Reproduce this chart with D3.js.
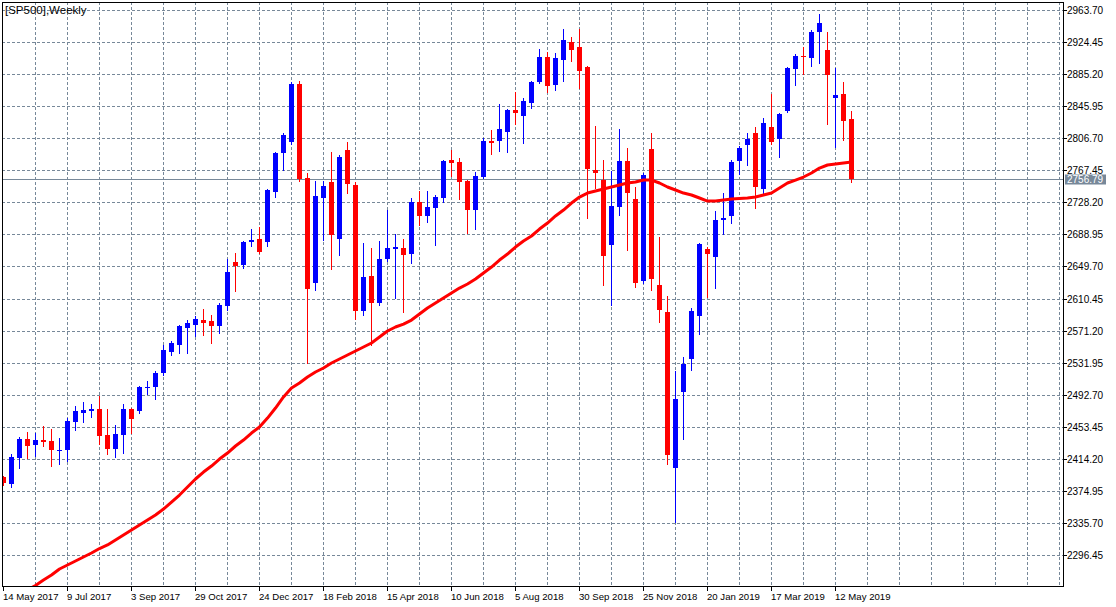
<!DOCTYPE html>
<html>
<head>
<meta charset="utf-8">
<script src="https://cdn.jsdelivr.net/npm/d3@7/dist/d3.min.js"></script>
<style>
  html, body { margin: 0; padding: 0; background: #ffffff; }
  svg { display: block; }
  text { font-family: "Liberation Sans", Arial, sans-serif; }
</style>
</head>
<body>
<svg id="chart" width="1116" height="607"></svg>
<script>
// ---------------- DATA ----------------
const title = "[SP500],Weekly";

// Weekly candles, first bar = week of 14 May 2017 (one bar per week)
const open = [
  2391.9, 2383.7, 2415.6, 2438.5, 2431.5, 2437.2, 2436.0, 2424.6, 2425.4, 2459.6,
  2470.6, 2473.1, 2475.2, 2443.4, 2426.6, 2443.7, 2475.2, 2473.1, 2501.5, 2501.8,
  2519.3, 2545.3, 2553.6, 2574.7, 2578.4, 2584.1, 2582.9, 2577.2, 2601.7, 2655.2,
  2651.9, 2679.6, 2683.3, 2679.6, 2740.8, 2788.6, 2802.0, 2873.1, 2758.0, 2629.4,
  2733.5, 2753.1, 2683.3, 2792.3, 2749.4, 2595.1, 2638.0, 2604.9, 2658.8, 2671.1,
  2672.3, 2664.9, 2728.6, 2711.5, 2721.3, 2733.9, 2780.0, 2777.6, 2754.3, 2719.2,
  2759.6, 2803.3, 2803.6, 2814.3, 2841.2, 2833.9, 2849.8, 2875.5, 2906.1, 2871.8,
  2902.5, 2924.5, 2918.4, 2893.9, 2767.8, 2755.5, 2676.3, 2722.8, 2778.8, 2732.3,
  2631.5, 2793.5, 2627.0, 2593.9, 2403.3, 2496.3, 2536.7, 2589.4, 2671.0, 2661.6,
  2706.6, 2711.5, 2779.2, 2798.7, 2813.1, 2744.9, 2820.4, 2806.1, 2840.4, 2891.8,
  2907.3, 2905.3, 2937.1, 2914.7, 2856.3, 2860.8, 2830.6
];
const high = [
  2393.2, 2420.1, 2440.9, 2447.0, 2445.8, 2454.4, 2450.7, 2439.7, 2463.8, 2478.9,
  2483.7, 2481.3, 2491.1, 2475.2, 2455.6, 2481.3, 2476.0, 2503.0, 2509.5, 2521.7,
  2553.6, 2558.4, 2577.5, 2584.1, 2589.0, 2597.6, 2590.3, 2605.0, 2658.8, 2666.2,
  2680.8, 2695.5, 2698.0, 2744.0, 2789.5, 2813.1, 2875.5, 2876.7, 2764.1, 2754.3,
  2754.3, 2789.8, 2786.1, 2802.0, 2753.1, 2678.4, 2672.3, 2680.8, 2718.8, 2689.4,
  2683.3, 2733.5, 2742.1, 2742.1, 2737.2, 2780.0, 2792.3, 2782.8, 2755.5, 2765.3,
  2806.6, 2816.7, 2848.6, 2842.0, 2863.3, 2855.9, 2876.7, 2915.9, 2912.2, 2911.0,
  2940.4, 2930.6, 2940.4, 2895.5, 2821.6, 2780.0, 2766.5, 2818.0, 2794.7, 2747.0,
  2764.1, 2813.1, 2685.7, 2613.5, 2522.1, 2538.8, 2598.8, 2678.0, 2673.9, 2717.6,
  2740.0, 2779.5, 2797.5, 2813.1, 2820.8, 2831.4, 2860.8, 2837.0, 2893.9, 2909.8,
  2918.7, 2939.2, 2958.8, 2936.8, 2892.7, 2875.5, 2840.0
];
const low = [
  2382.2, 2380.1, 2403.3, 2415.6, 2418.0, 2430.3, 2405.8, 2408.2, 2411.9, 2449.8,
  2459.2, 2465.7, 2432.7, 2420.4, 2416.8, 2421.7, 2446.2, 2470.6, 2493.6, 2487.8,
  2516.8, 2541.3, 2544.1, 2544.1, 2564.9, 2566.1, 2556.3, 2568.6, 2596.4, 2620.0,
  2648.2, 2675.1, 2666.0, 2674.7, 2734.7, 2767.8, 2799.6, 2754.3, 2531.5, 2620.9,
  2682.1, 2646.6, 2663.7, 2739.6, 2585.3, 2590.3, 2553.5, 2603.0, 2657.0, 2611.1,
  2593.9, 2653.9, 2700.4, 2704.1, 2675.9, 2729.0, 2760.8, 2732.6, 2691.0, 2695.9,
  2758.0, 2787.4, 2791.0, 2789.8, 2824.1, 2800.8, 2843.7, 2874.3, 2863.3, 2865.7,
  2876.7, 2901.2, 2868.2, 2709.0, 2745.8, 2627.3, 2602.9, 2713.1, 2670.2, 2624.9,
  2630.0, 2621.2, 2582.0, 2408.2, 2336.8, 2438.8, 2523.3, 2567.4, 2612.7, 2623.7,
  2690.0, 2703.0, 2763.3, 2774.3, 2721.6, 2737.5, 2800.0, 2784.1, 2839.0, 2872.2,
  2885.3, 2895.5, 2899.2, 2824.5, 2796.3, 2804.9, 2753.4
];
const close = [
  2384.6, 2416.8, 2438.5, 2430.3, 2437.2, 2434.8, 2425.4, 2425.0, 2460.5, 2472.7,
  2474.0, 2475.5, 2442.5, 2426.6, 2444.6, 2475.2, 2463.3, 2502.1, 2502.1, 2519.3,
  2547.4, 2555.6, 2576.8, 2580.5, 2585.3, 2580.8, 2577.2, 2602.5, 2642.9, 2650.6,
  2679.6, 2682.1, 2667.4, 2743.3, 2788.6, 2810.6, 2873.1, 2756.8, 2622.1, 2735.9,
  2748.2, 2688.2, 2783.7, 2750.6, 2595.1, 2636.8, 2604.9, 2658.8, 2672.3, 2673.5,
  2663.7, 2728.6, 2711.5, 2722.5, 2734.7, 2778.8, 2776.7, 2753.4, 2719.2, 2760.8,
  2803.6, 2800.8, 2818.0, 2841.2, 2837.6, 2852.2, 2875.5, 2906.1, 2870.6, 2904.9,
  2927.0, 2914.7, 2889.0, 2769.0, 2764.5, 2662.8, 2723.7, 2778.8, 2740.0, 2629.8,
  2762.0, 2634.7, 2596.7, 2419.2, 2487.4, 2530.3, 2595.1, 2677.2, 2665.3, 2706.6,
  2709.0, 2777.6, 2794.7, 2806.1, 2747.4, 2825.3, 2802.4, 2836.3, 2892.6, 2907.3,
  2906.1, 2936.8, 2947.8, 2884.5, 2859.6, 2828.1, 2756.79
];
// Moving average (red line), one value per bar
const movingAverage = [
  2236.4, 2243.8, 2248.7, 2253.6, 2259.1, 2265.8, 2271.9, 2279.3, 2284.2, 2289.1,
  2294.0, 2298.9, 2304.4, 2308.7, 2314.8, 2320.9, 2327.0, 2333.1, 2339.3, 2345.4,
  2352.7, 2361.3, 2369.9, 2379.7, 2389.5, 2398.0, 2405.4, 2413.9, 2421.3, 2429.9,
  2437.2, 2445.8, 2453.1, 2464.1, 2476.4, 2489.9, 2500.9, 2507.0, 2514.3, 2520.5,
  2525.4, 2531.5, 2536.4, 2541.3, 2546.2, 2551.1, 2556.0, 2563.3, 2570.7, 2575.6,
  2579.2, 2584.1, 2591.5, 2598.8, 2604.9, 2611.1, 2617.2, 2623.3, 2628.2, 2634.3,
  2641.7, 2649.0, 2657.6, 2664.9, 2673.5, 2680.8, 2687.0, 2695.5, 2702.9, 2711.5,
  2718.8, 2727.4, 2734.7, 2739.6, 2742.1, 2744.5, 2747.0, 2749.4, 2751.9, 2753.1,
  2755.5, 2755.5, 2751.9, 2747.0, 2743.3, 2739.6, 2737.2, 2733.5, 2729.8, 2729.8,
  2731.0, 2732.3, 2732.9, 2733.5, 2734.7, 2737.2, 2739.6, 2745.7, 2751.9, 2755.5,
  2759.2, 2764.1, 2770.2, 2773.9, 2775.1, 2776.3, 2777.6
];
const lastPrice = 2756.79;

// Price axis tick labels
const priceTicks = [
  "2296.45", "2335.70", "2374.95", "2414.20", "2453.45", "2492.70", "2531.95", "2571.20",
  "2610.45", "2649.70", "2688.95", "2728.20", "2767.45", "2806.70", "2845.95", "2885.20",
  "2924.45", "2963.70"
];
// Time axis labels: one label every 8 bars, starting at bar 0
const timeLabels = [
  "14 May 2017", "9 Jul 2017", "3 Sep 2017", "29 Oct 2017", "24 Dec 2017", "18 Feb 2018",
  "15 Apr 2018", "10 Jun 2018", "5 Aug 2018", "30 Sep 2018", "25 Nov 2018", "20 Jan 2019",
  "17 Mar 2019", "12 May 2019"
];
const labelEvery = 8;
const gridEvery = 4;

// ---------------- LAYOUT ----------------
const plot = { left: 2, top: 2, right: 1063, bottom: 586 };
const svg = d3.select("#chart");
const BLUE = "#0000ff", RED = "#ff0000", GRID = "#778899";

const nBars = close.length;
// bar index -> pixel center (8px per bar)
const x = d3.scaleLinear().domain([0, 1]).range([3.5, 11.5]);
const y = d3.scaleLinear().domain([+priceTicks[0], +priceTicks[priceTicks.length - 1]]).range([555, 10]);

svg.append("rect").attr("x", 0).attr("y", 0).attr("width", 1116).attr("height", 607).attr("fill", "#fff");

svg.append("defs").append("clipPath").attr("id", "clip")
  .append("rect").attr("x", plot.left + 1).attr("y", plot.top + 1)
  .attr("width", plot.right - plot.left - 1).attr("height", plot.bottom - plot.top - 1);

// Grid
const grid = svg.append("g").attr("clip-path", "url(#clip)");
priceTicks.forEach(t => {
  const yy = Math.round(y(+t)) + 0.5;
  grid.append("line").attr("x1", plot.left).attr("x2", plot.right).attr("y1", yy).attr("y2", yy)
    .attr("stroke", GRID).attr("stroke-width", 1).attr("stroke-dasharray", "3,2");
});
for (let i = gridEvery; x(i) < plot.right; i += gridEvery) {
  const xx = Math.floor(x(i)) + 0.5;
  grid.append("line").attr("x1", xx).attr("x2", xx).attr("y1", plot.top).attr("y2", plot.bottom)
    .attr("stroke", GRID).attr("stroke-width", 1).attr("stroke-dasharray", "3,2");
}

// Last price line
const lpY = Math.round(y(lastPrice)) + 0.5;
grid.append("line").attr("x1", plot.left).attr("x2", plot.right).attr("y1", lpY).attr("y2", lpY)
  .attr("stroke", GRID).attr("stroke-width", 1);

// Candles
const bars = d3.range(nBars).map(i => ({ i, o: open[i], h: high[i], l: low[i], c: close[i] }));
const cg = svg.append("g").attr("clip-path", "url(#clip)");
const candle = cg.selectAll("g.c").data(bars).join("g").attr("class", "c");
candle.append("line")
  .attr("x1", d => Math.floor(x(d.i)) + 0.5).attr("x2", d => Math.floor(x(d.i)) + 0.5)
  .attr("y1", d => Math.round(y(d.h))).attr("y2", d => Math.round(y(d.l)) + 1)
  .attr("stroke", d => d.c >= d.o ? BLUE : RED).attr("stroke-width", 1);
candle.append("rect")
  .attr("x", d => Math.floor(x(d.i)) - 2).attr("width", 5)
  .attr("y", d => Math.round(y(Math.max(d.o, d.c))))
  .attr("height", d => Math.max(1, Math.round(y(Math.min(d.o, d.c))) - Math.round(y(Math.max(d.o, d.c)))))
  .attr("fill", d => d.c >= d.o ? BLUE : RED);

// Moving average
const line = d3.line().x((d, i) => x(i)).y(d => y(d));
cg.append("path").datum(movingAverage).attr("d", line)
  .attr("fill", "none").attr("stroke", RED).attr("stroke-width", 3).attr("stroke-linejoin", "round");

// Frame
svg.append("rect").attr("x", plot.left + 0.5).attr("y", plot.top + 0.5)
  .attr("width", plot.right - plot.left).attr("height", plot.bottom - plot.top)
  .attr("fill", "none").attr("stroke", "#000").attr("stroke-width", 1);

// Right price axis
priceTicks.forEach(t => {
  const yy = Math.round(y(+t)) + 0.5;
  svg.append("line").attr("x1", plot.right).attr("x2", plot.right + 4).attr("y1", yy).attr("y2", yy)
    .attr("stroke", "#000");
  svg.append("text").attr("x", plot.right + 4).attr("y", yy + 3.5)
    .attr("font-size", 10).attr("fill", "#000").text(t);
});
// Last price label
svg.append("rect").attr("x", plot.right + 2).attr("y", lpY - 5).attr("width", 41).attr("height", 10)
  .attr("fill", GRID);
svg.append("text").attr("x", plot.right + 4).attr("y", lpY + 3.5)
  .attr("font-size", 10).attr("fill", "#fff").text(lastPrice.toFixed(2));

// Bottom time axis
timeLabels.forEach((lab, k) => {
  const xx = Math.floor(x(k * labelEvery)) + 0.5;
  svg.append("line").attr("x1", xx).attr("x2", xx).attr("y1", plot.bottom).attr("y2", plot.bottom + 5)
    .attr("stroke", "#000");
  svg.append("text").attr("x", xx - 0.5).attr("y", 600)
    .attr("font-size", 9.6).attr("fill", "#000").text(lab);
});

// Title
svg.append("text").attr("x", 5).attr("y", 14).attr("font-size", 11.5).attr("fill", "#000").text(title);
</script>
</body>
</html>
